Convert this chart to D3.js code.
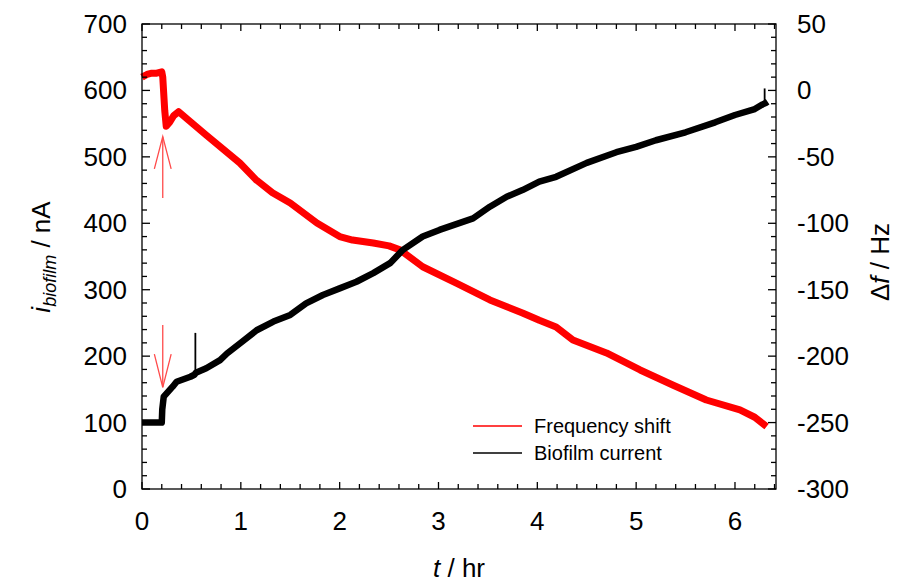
<!DOCTYPE html>
<html><head><meta charset="utf-8">
<script src="https://cdn.jsdelivr.net/npm/d3@7"></script>
<style>body{margin:0;background:#fff}svg{font-family:"Liberation Sans",Arial,sans-serif}</style>
</head><body><svg id="c" width="897" height="582"></svg>
<script>
// Frequency shift (Hz, right axis) vs time (hr)
const freqT = [0,0.05,0.1,0.15,0.2,0.21,0.23,0.245,0.28,0.32,0.37,0.45,0.65,0.99,1.15,1.32,1.5,1.77,2.0,2.13,2.34,2.5,2.61,2.84,3.18,3.52,3.85,4.02,4.19,4.36,4.70,5.04,5.37,5.71,6.05,6.2,6.32];
const freqV = [10,12,13,13,14,10,-15,-27,-24,-19,-16,-21,-33.6,-54.6,-67,-77,-84.7,-99.8,-110,-112.6,-114.8,-117,-120,-132.7,-145,-157.7,-167.5,-173,-178,-187.9,-197.6,-210.4,-221.7,-233,-240.5,-246,-253];
// Biofilm current (nA, left axis) vs time (hr)
const curT = [0,0.1,0.2,0.205,0.22,0.31,0.35,0.49,0.53,0.545,0.65,0.79,0.86,0.99,1.16,1.33,1.5,1.66,1.83,2.0,2.17,2.34,2.51,2.64,2.84,3.01,3.35,3.52,3.69,3.85,4.02,4.19,4.5,4.8,5.0,5.2,5.5,5.8,6.0,6.2,6.28,6.31,6.33];
const curV = [100,100,100,120,139,154,161.5,169,172,175,181.7,194,204,219,239,252,262,279.5,292,302,312,325,340,360,380,390,407.5,425,440,450,462.6,470,491,507,515,525,537,552,563,572,579,581,583];
// Brief spikes in the current trace (time, low, high)
const spikeT = [0.54, 6.30];
const spikeLo = [172, 578];
const spikeHi = [235, 603];
// Tick values
const xTicks = [0,1,2,3,4,5,6];
const yLeftTicks = [0,100,200,300,400,500,600,700];
const yRightTicks = [-300,-250,-200,-150,-100,-50,0,50];
// Annotation arrows (time, value)
const upArrow = {t:0.21, tail:-81, tip:-34.8, wing:-59.1, dt:0.085};
const downArrow = {t:0.21, tail:247, tip:153, wing:203, dt:0.085};
const legendItems = [{label:"Frequency shift", color:"#ff0000"},{label:"Biofilm current", color:"#000000"}];

const svg = d3.select("#c");
const L=142,R=776,T=24,B=489;
const x = d3.scaleLinear().domain([0,6.415]).range([L,R]);
const yL = d3.scaleLinear().domain([0,700]).range([B,T]);
const yR = d3.scaleLinear().domain([-300,50]).range([B,T]);

// data lines
const fData = freqT.map((t,i)=>[t,freqV[i]]);
const cData = curT.map((t,i)=>[t,curV[i]]);
svg.append("path").datum(fData).attr("fill","none").attr("stroke","#ff0000").attr("stroke-width",7).attr("stroke-linejoin","round")
  .attr("d",d3.line().x(d=>x(d[0])).y(d=>yR(d[1])));
svg.append("path").datum(cData).attr("fill","none").attr("stroke","#000").attr("stroke-width",6.5).attr("stroke-linejoin","round")
  .attr("d",d3.line().x(d=>x(d[0])).y(d=>yL(d[1])));
svg.append("g").selectAll("line").data(spikeT).join("line")
  .attr("x1",d=>x(d)).attr("x2",d=>x(d)).attr("y1",(d,i)=>yL(spikeLo[i])).attr("y2",(d,i)=>yL(spikeHi[i]))
  .attr("stroke","#000").attr("stroke-width",1.8);

// arrows
const ac="#ff4a4a";
function arrow(a, sc){
  const g=svg.append("g").attr("stroke",ac).attr("stroke-width",1.3).attr("fill","none");
  g.append("line").attr("x1",x(a.t)).attr("x2",x(a.t)).attr("y1",sc(a.tail)).attr("y2",sc(a.tip));
  g.append("polyline").attr("points",[[x(a.t-a.dt),sc(a.wing)],[x(a.t),sc(a.tip)],[x(a.t+a.dt),sc(a.wing)]].map(p=>p.join(",")).join(" "));
}
arrow(upArrow,yR); arrow(downArrow,yL);

// frame + ticks
const ax=svg.append("g").attr("stroke","#000").attr("stroke-width",1.3);
ax.append("rect").attr("x",L).attr("y",T).attr("width",R-L).attr("height",B-T).attr("fill","none");
d3.range(0,6.41,0.2).forEach(v=>{
  const maj=Math.abs(v-Math.round(v))<1e-6, len=maj?7:5, px=x(v);
  ax.append("line").attr("x1",px).attr("x2",px).attr("y1",B).attr("y2",B-len);
  ax.append("line").attr("x1",px).attr("x2",px).attr("y1",T).attr("y2",T+len);
});
d3.range(0,701,20).forEach(v=>{
  const maj=v%100===0, len=maj?8:5, py=yL(v);
  ax.append("line").attr("x1",L).attr("x2",L+len).attr("y1",py).attr("y2",py);
});
d3.range(-300,51,10).forEach(v=>{
  const maj=v%50===0, len=maj?8:5, py=yR(v);
  ax.append("line").attr("x1",R).attr("x2",R-len).attr("y1",py).attr("y2",py);
});

// tick labels
const fs=26;
svg.append("g").selectAll("text").data(xTicks).join("text").attr("x",d=>x(d)).attr("y",530).attr("text-anchor","middle").attr("font-size",fs).text(d=>d);
svg.append("g").selectAll("text").data(yLeftTicks).join("text").attr("x",127).attr("y",d=>yL(d)+9).attr("text-anchor","end").attr("font-size",fs).text(d=>d);
svg.append("g").selectAll("text").data(yRightTicks).join("text").attr("x",797).attr("y",d=>yR(d)+9).attr("text-anchor","start").attr("font-size",fs).text(d=>d);

// axis titles
const xt=svg.append("text").attr("x",459).attr("y",577).attr("text-anchor","middle").attr("font-size",fs);
xt.append("tspan").attr("font-style","italic").text("t");
xt.append("tspan").text(" / hr");
const ylt=svg.append("text").attr("transform","translate(50,257) rotate(-90)").attr("text-anchor","middle").attr("font-size",fs);
ylt.append("tspan").attr("font-style","italic").text("i");
ylt.append("tspan").attr("font-style","italic").attr("font-size",18).attr("dy",6).text("biofilm");
ylt.append("tspan").attr("dy",-6).text(" / nA");
const yrt=svg.append("text").attr("transform","translate(889,262) rotate(-90)").attr("text-anchor","middle").attr("font-size",fs);
yrt.append("tspan").text("Δ");
yrt.append("tspan").attr("font-style","italic").text("f");
yrt.append("tspan").text(" / Hz");

// legend
const lg=svg.append("g").selectAll("g").data(legendItems).join("g").attr("transform",(d,i)=>`translate(473,${426+i*27})`);
lg.append("line").attr("x1",0).attr("x2",49).attr("stroke",d=>d.color).attr("stroke-width",1.5);
lg.append("text").attr("x",61).attr("y",7).attr("font-size",20).text(d=>d.label);
</script></body></html>
